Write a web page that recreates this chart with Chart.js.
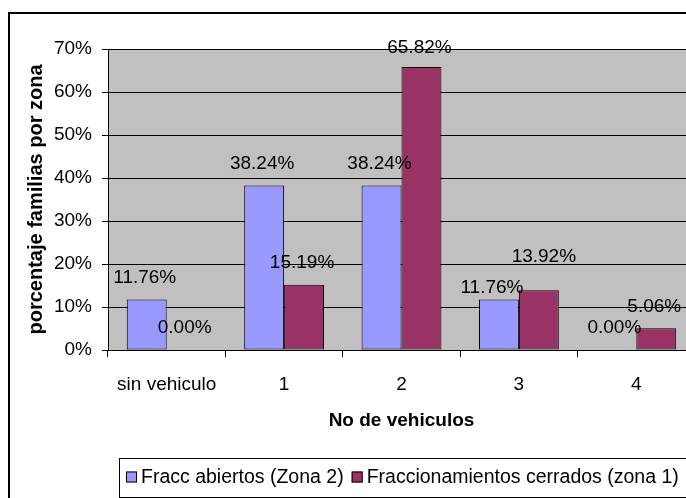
<!DOCTYPE html>
<html>
<head>
<meta charset="utf-8">
<script src="https://cdn.jsdelivr.net/npm/chart.js@4"></script>
<style>
html,body{margin:0;padding:0;overflow:hidden;background:#fff;}
canvas{display:block;}
</style>
</head>
<body>
<canvas id="c" width="705" height="498"></canvas>
<script>
// datos
const categorias=['sin vehiculo','1','2','3','4'];
const abiertos=[11.76,38.24,38.24,11.76,0.00];
const cerrados=[0.00,15.19,65.82,13.92,5.06];
const yTicks=[0,10,20,30,40,50,60,70];
const nombres=['Fracc abiertos (Zona 2)','Fraccionamientos cerrados (zona 1)'];
const colores=['#9999FF','#993366'];
// ajustes de etiquetas movidas a mano (como en el original)
const labelShift=[[[0,0],[0,0],[0,0],[-5,10],[0,0]],[[0,0],[0,0],[0,3],[7,-11],[0,1]]];

const FONT='"Liberation Sans", Arial, sans-serif';

const fondo={
  id:'fondo',
  beforeDraw(ch){
    const {ctx,chartArea:a}=ch;
    ctx.save();
    ctx.fillStyle='#C0C0C0';
    ctx.fillRect(a.left,a.top,a.right-a.left,a.bottom-a.top);
    ctx.restore();
  },
  afterDraw(ch){
    const ctx=ch.ctx;
    ctx.save();
    // marco exterior
    ctx.strokeStyle='#000';ctx.lineWidth=2;
    ctx.strokeRect(9,13,760,560);
    // etiquetas de datos
    ctx.font='19px '+FONT;ctx.fillStyle='#000';
    ctx.textAlign='center';ctx.textBaseline='middle';
    ch.data.datasets.forEach((ds,di)=>{
      ch.getDatasetMeta(di).data.forEach((bar,i)=>{
        const s=labelShift[di][i];
        ctx.fillText(ds.data[i].toFixed(2)+'%',bar.x-2+s[0],bar.y-22+s[1]);
      });
    });
    // leyenda
    ctx.font='19.5px '+FONT;ctx.textAlign='left';
    const w1=ctx.measureText(nombres[0]).width,w2=ctx.measureText(nombres[1]).width;
    const sq=11,gap=4,sp=8,pad=7;
    const total=sq+gap+w1+sp+sq+gap+w2;
    const cx=(ch.chartArea.left+ch.chartArea.right)/2+1;
    const bx=Math.round(cx-total/2-pad),by=458,bw=Math.round(total+2*pad),bh=39;
    ctx.fillStyle='#fff';ctx.fillRect(bx,by,bw,bh);
    ctx.lineWidth=1;ctx.strokeStyle='#000';
    ctx.strokeRect(bx+0.5,by+0.5,bw,bh);
    let x=bx+pad;const yc=by+19;
    [w1,w2].forEach((w,k)=>{
      ctx.fillStyle=colores[k];ctx.fillRect(x,yc-sq/2,sq,sq);
      ctx.strokeRect(x+0.5,yc-sq/2+0.5,sq-1,sq-1);
      x+=sq+gap;
      ctx.fillStyle='#000';ctx.fillText(nombres[k],x,yc+1);
      x+=w+sp;
    });
    ctx.restore();
  }
};

new Chart(document.getElementById('c'),{
  type:'bar',
  data:{labels:categorias,datasets:[
    {label:nombres[0],data:abiertos,backgroundColor:colores[0],borderColor:'#000',borderWidth:1,borderSkipped:false},
    {label:nombres[1],data:cerrados,backgroundColor:colores[1],borderColor:'#000',borderWidth:1,borderSkipped:false}
  ]},
  options:{
    responsive:false,animation:false,
    layout:{padding:{left:0,top:49,right:10,bottom:68}},
    datasets:{bar:{categoryPercentage:0.68,barPercentage:1}},
    plugins:{legend:{display:false},tooltip:{enabled:false}},
    scales:{
      x:{
        grid:{drawOnChartArea:false,drawTicks:true,tickLength:7,color:'#000',tickColor:'#000'},
        border:{color:'#000',width:1},
        ticks:{color:'#000',font:{family:FONT,size:19},padding:16,maxRotation:0},
        title:{display:true,text:'No de vehiculos',color:'#000',font:{family:FONT,size:19,weight:'bold'},padding:{top:0,bottom:-2}},
        afterFit(s){s.height=80;}
      },
      y:{
        min:0,max:70,
        afterBuildTicks(s){s.ticks=yTicks.map(v=>({value:v}));},
        grid:{color:'#000',tickColor:'#000',tickLength:6,lineWidth:1},
        border:{color:'#000',width:1},
        ticks:{color:'#000',font:{family:FONT,size:19},padding:10,callback:v=>v+'%'},
        title:{display:true,text:'porcentaje familias por zona',color:'#000',font:{family:FONT,size:20,weight:'bold'},padding:{top:24,bottom:0}},
        afterFit(s){s.width=108;}
      }
    }
  },
  plugins:[fondo]
});
</script>
</body>
</html>
